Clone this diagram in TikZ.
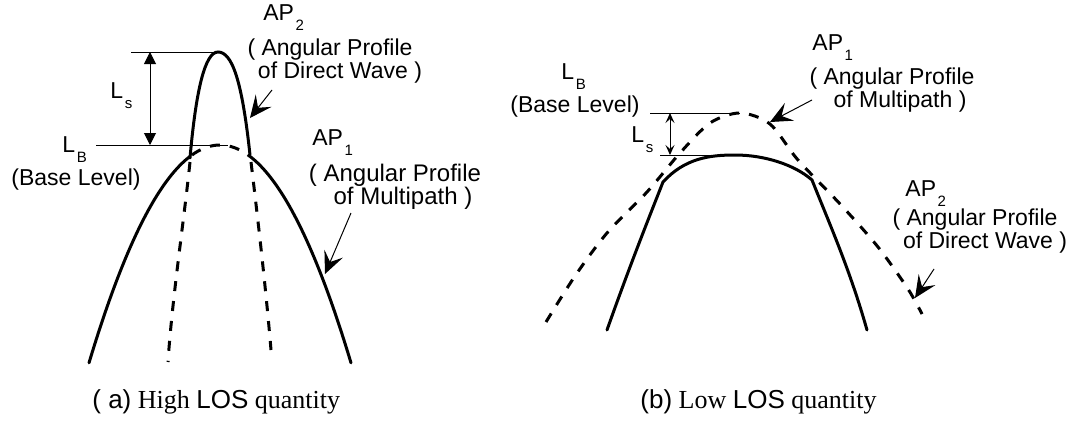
\documentclass[tikz,border=0pt]{standalone}
\usepackage{fontspec}
\setmainfont{Liberation Serif}
\setsansfont{Liberation Sans}
\usetikzlibrary{arrows.meta}
\newcommand{\sbs}[1]{\kern0.8pt\raisebox{-5pt}{\fontsize{7.5}{8}\selectfont #1}}
\begin{document}
\begin{tikzpicture}[x=0.5pt,y=-0.5pt,
  lab/.style={font=\sffamily\fontsize{11.5}{11.5}\selectfont, inner sep=0pt, align=center},
  curve/.style={line width=1.5pt, line cap=round},
  dcurve/.style={line width=1.5pt, dash pattern=on 5pt off 5pt},
  thinline/.style={line width=0.5pt},
  ptr/.style={line width=0.5pt, -{Stealth[length=11pt,width=10pt,inset=4.5pt]}},
  dima/.style={line width=0.5pt, {Triangle[length=6pt,width=6pt]}-{Triangle[length=6pt,width=6pt]}},
  dimb/.style={line width=0.5pt, {Stealth[length=5pt,width=4.5pt,inset=2pt]}-{Stealth[length=5pt,width=4.5pt,inset=2pt]}},
  captxt/.style={font=\fontsize{13}{13}\selectfont, inner sep=0pt, anchor=base west}
]
\useasboundingbox (0,0) rectangle (1076,423);

% ---------------- (a) ----------------
% AP2 narrow peak (solid)
\draw[curve] (190,158) .. controls (196,90) and (205,52) .. (218,52)
  .. controls (232,52) and (242,80) .. (250,155);
% AP1 wide parabola
\draw[curve] plot[domain=89:190, samples=40] (\x, {145+0.0127*(\x-220)*(\x-220)});
\draw[dcurve] plot[domain=192:250, samples=20] (\x, {145+0.0127*(\x-220)*(\x-220)});
\draw[curve] plot[domain=250:351, samples=40] (\x, {145+0.0127*(\x-220)*(\x-220)});
% AP2 dashed flanks
\draw[dcurve] (190,162) .. controls (184,220) and (172,300) .. (168,362);
\draw[dcurve] (251,162) .. controls (258,220) and (266,290) .. (271,350);

% levels
\coordinate (aTopL) at (131,52);  \coordinate (aTopR) at (218,52);
\coordinate (aBasL) at (96,145);  \coordinate (aBasR) at (228,145);
\coordinate (aLs1) at (150,52);   \coordinate (aLs2) at (150,145);
\draw[thinline] (aTopL) -- (aTopR);
\draw[thinline] (aBasL) -- (aBasR);
\draw[dima] (aLs1) -- (aLs2);

\node[lab, anchor=base west] (aLs) at (110,98) {L\sbs{s}};
\node[lab, anchor=base west] (aLB) at (62,152) {L\sbs{B}};
\node[lab] (aBase) at (76,180) {(Base Level)};
\node[lab, anchor=base west] (aAP2) at (263,20) {AP\sbs{2}};
\node[lab] (aAP2t) at (330,61) {( Angular Profile\\\hspace*{10pt}of Direct Wave )};
\node[lab, anchor=base west] (aAP1) at (312,145) {AP\sbs{1}};
\node[lab, font=\sffamily\fontsize{12}{11.5}\selectfont] (aAP1t) at (395,187) {( Angular Profile\\\hspace*{8pt}of Multipath )};

\coordinate (aP2s) at (272,90);  \coordinate (aP2e) at (250,118);
\coordinate (aP1s) at (351,213); \coordinate (aP1e) at (325,274);
\draw[ptr] (aP2s) -- (aP2e);
\draw[ptr] (aP1s) -- (aP1e);

\node[captxt] (capa) at (92,408) {\textsf{( a)} High \textsf{LOS} quantity};

% ---------------- (b) ----------------
\draw[dcurve] plot[smooth] coordinates {(546,322) (575,276) (607,233) (647,192) (680,153) (710,123) (740,113) (770,124) (798,160) (841,205) (878,247) (908,289) (922,314)};
\draw[curve] (607,330) .. controls (630,265) and (650,215) .. (663,182)
  .. controls (685,158) and (710,155) .. (735,155)
  .. controls (765,155) and (795,165) .. (812,180)
  .. controls (830,225) and (850,270) .. (867,330);

\coordinate (bTopL) at (650,113); \coordinate (bTopR) at (740,113);
\coordinate (bBasL) at (660,155); \coordinate (bBasR) at (728,155);
\coordinate (bLs1) at (670,113);  \coordinate (bLs2) at (670,155);
\draw[thinline] (bTopL) -- (bTopR);
\draw[thinline] (bBasL) -- (bBasR);
\draw[dimb] (bLs1) -- (bLs2);

\node[lab, anchor=base west] (bLB) at (561,79) {L\sbs{B}};
\node[lab] (bBase) at (575,107) {(Base Level)};
\node[lab, anchor=base west] (bLs) at (631,142) {L\sbs{s}};
\node[lab, anchor=base west] (bAP1) at (812,50) {AP\sbs{1}};
\node[lab] (bAP1t) at (892,90) {( Angular Profile\\\hspace*{8pt}of Multipath )};
\node[lab, anchor=base west] (bAP2) at (905,196) {AP\sbs{2}};
\node[lab] (bAP2t) at (975,231) {( Angular Profile\\\hspace*{10pt}of Direct Wave )};

\coordinate (bP1s) at (812,100); \coordinate (bP1e) at (770,122);
\coordinate (bP2s) at (934,269); \coordinate (bP2e) at (915,298);
\draw[ptr] (bP1s) -- (bP1e);
\draw[ptr] (bP2s) -- (bP2e);

\node[captxt] (capb) at (640,408) {\textsf{(b)} Low \textsf{LOS} quantity};
\end{tikzpicture}
\end{document}
